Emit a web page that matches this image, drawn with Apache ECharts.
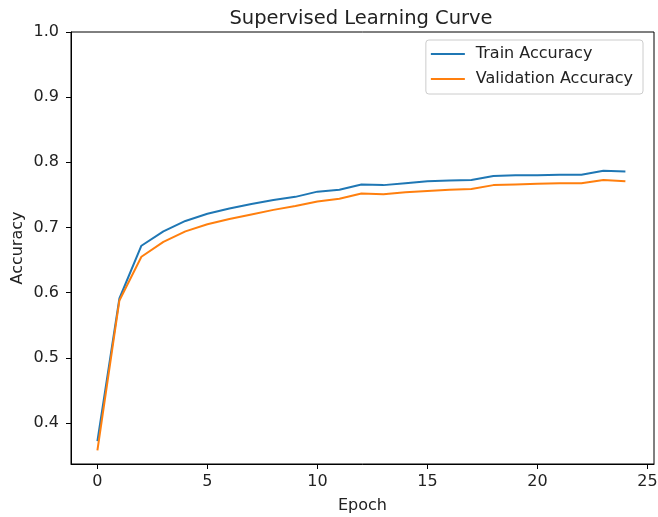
<!DOCTYPE html>
<html>
<head>
<meta charset="utf-8">
<script src="https://cdn.jsdelivr.net/npm/echarts@6/dist/echarts.min.js"></script>
<style>html,body{margin:0;padding:0;background:#fff}#c{width:658px;height:517px}</style>
</head>
<body>
<div id="c"></div>
<script>
const epochs = [0,1,2,3,4,5,6,7,8,9,10,11,12,13,14,15,16,17,18,19,20,21,22,23,24];
const trainAcc = [0.372,0.591,0.672,0.694,0.710,0.721,0.729,0.736,0.742,0.747,0.755,0.758,0.766,0.765,0.768,0.771,0.772,0.773,0.779,0.780,0.780,0.781,0.781,0.787,0.786];
const valAcc = [0.358,0.588,0.655,0.678,0.694,0.705,0.713,0.720,0.727,0.733,0.740,0.744,0.752,0.751,0.754,0.756,0.758,0.759,0.765,0.766,0.767,0.768,0.768,0.773,0.771];
const xTicks = [0,5,10,15,20,25];
const yTicks = [0.4,0.5,0.6,0.7,0.8,0.9,1.0];
const seriesNames = ['Train Accuracy','Validation Accuracy'];
const colors = ['#1f77b4','#ff7f0e'];
const font = 'DejaVu Sans';
const txt = '#222';

const chart = echarts.init(document.getElementById('c'));
chart.setOption({
  animation: false,
  backgroundColor: '#fff',
  textStyle: {fontFamily: font},
  title: {
    text: 'Supervised Learning Curve',
    left: 356, top: 4, textAlign: 'center',
    textStyle: {fontFamily: font, fontSize: 19.5, fontWeight: 'normal', color: txt}
  },
  grid: {left: 71, right: 4, top: 32, bottom: 53, show: true, borderColor: '#000', borderWidth: 1,
    backgroundColor: 'transparent', containLabel: false, outerBoundsMode: 'none'},
  legend: {
    orient: 'vertical', right: 15, top: 40,
    data: seriesNames,
    icon: 'path://M0,0 H34 V2 H0 Z',
    itemWidth: 34, itemHeight: 2, itemGap: 9,
    borderColor: '#cccccc', borderWidth: 1, borderRadius: 3,
    padding: [6, 10, 7, 5],
    backgroundColor: 'rgba(255,255,255,0.8)',
    textStyle: {fontFamily: font, fontSize: 16, lineHeight: 16, color: txt, padding: [0,0,0,6]}
  },
  xAxis: {
    type: 'value', min: -1.2, max: 25.3,
    name: 'Epoch', nameLocation: 'middle', nameGap: 34, nameMoveOverlap: false,
    nameTextStyle: {fontFamily: font, fontSize: 16, color: txt},
    splitLine: {show: false},
    axisLine: {onZero: false, lineStyle: {color: '#000', width: 1}},
    axisTick: {show: true, length: 5, customValues: xTicks, lineStyle: {color: '#000'}},
    axisLabel: {customValues: xTicks, fontFamily: font, fontSize: 16, color: txt, margin: 10}
  },
  yAxis: {
    type: 'value', min: 0.337, max: 1.0,
    name: 'Accuracy', nameLocation: 'middle', nameGap: 45, nameMoveOverlap: false,
    nameTextStyle: {fontFamily: font, fontSize: 16, color: txt},
    splitLine: {show: false},
    axisLine: {onZero: false, lineStyle: {color: '#000', width: 1}},
    axisTick: {show: true, length: 5, customValues: yTicks, lineStyle: {color: '#000'}},
    axisLabel: {customValues: yTicks, fontFamily: font, fontSize: 16, color: txt, margin: 12,
      formatter: v => v.toFixed(1)}
  },
  series: [
    {name: seriesNames[0], type: 'line', data: epochs.map((e,i)=>[e, trainAcc[i]]), showSymbol: false, symbol: 'none',
     lineStyle: {color: colors[0], width: 2}, itemStyle: {color: colors[0]}},
    {name: seriesNames[1], type: 'line', data: epochs.map((e,i)=>[e, valAcc[i]]), showSymbol: false, symbol: 'none',
     lineStyle: {color: colors[1], width: 2}, itemStyle: {color: colors[1]}}
  ]
});
</script>
</body>
</html>
